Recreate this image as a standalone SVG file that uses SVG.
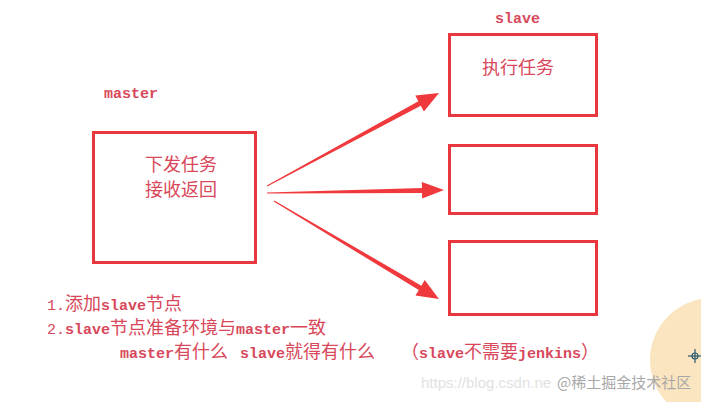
<svg xmlns="http://www.w3.org/2000/svg" width="701" height="402" viewBox="0 0 701 402">
<style>
.box{fill:none;stroke:#e8383d;stroke-width:3}
.arrow{fill:#f0393c;stroke:none}
.mono{font-family:"Liberation Mono","DejaVu Sans Mono",monospace;font-weight:bold;font-size:15px;fill:#d8485a}
.cjk{font-family:"Noto Sans CJK SC","Noto Sans CJK JP",sans-serif;font-size:18px;fill:#d8485a}
.lbl{font-family:"Liberation Mono","Noto Sans CJK SC",monospace;font-size:15px;fill:#d8485a}
.c{font-family:"Noto Sans CJK SC","Noto Sans CJK JP",sans-serif;font-size:18px}
.b{font-weight:bold}
.wm{font-family:"Liberation Sans",Arial,sans-serif;font-size:15px;fill:#e2e2e2}
.wm2{font-family:"Noto Sans CJK SC","Liberation Sans",sans-serif;font-size:15px;fill:#a8a8a8}
</style>
<rect width="701" height="402" fill="#ffffff"/>
<circle cx="712" cy="360" r="62" fill="#fbe5c0"/>
<g id="master">
<text class="mono" x="104" y="98">master</text>
<rect class="box" x="93.5" y="132.5" width="162" height="130"/>
<text class="cjk" x="181" y="171" text-anchor="middle" font-size="17">下发任务</text>
<text class="cjk" x="181" y="196" text-anchor="middle" font-size="17">接收返回</text>
</g>
<g id="slave1">
<text class="mono" x="495" y="23">slave</text>
<rect class="box" x="449.5" y="34.5" width="147" height="81"/>
<text class="cjk" x="482" y="74">执行任务</text>
</g>
<g id="slave2">
<rect class="box" x="449.5" y="145.5" width="147" height="68"/>
</g>
<g id="slave3">
<rect class="box" x="449.5" y="241.5" width="147" height="73"/>
</g>
<g id="connectors">
<polygon class="arrow" points="267.2,186.4 420.8,105.7 423.9,111.4 439,93 415.3,95.6 418.4,101.3 266.8,185.6"/>
<polygon class="arrow" points="267,193.5 422,192.9 422.2,198.5 444,190 421.8,182 422,187.9 267,192.5"/>
<polygon class="arrow" points="273.7,201.4 418.8,290 415.5,295.5 439,299 424.7,280.1 421.4,285.7 274.3,200.6"/>
</g>
<g id="notes">
<text class="lbl" x="47" y="310"><tspan>1.</tspan><tspan class="c">添加</tspan><tspan class="b">slave</tspan><tspan class="c">节点</tspan></text>
<text class="lbl" x="47" y="334"><tspan>2.</tspan><tspan class="b">slave</tspan><tspan class="c">节点准备环境与</tspan><tspan class="b">master</tspan><tspan class="c">一致</tspan></text>
<text class="lbl" x="120" y="358"><tspan class="b">master</tspan><tspan class="c">有什么</tspan><tspan class="b" x="240">slave</tspan><tspan class="c">就得有什么</tspan></text>
<text class="lbl" x="401" y="358"><tspan class="c">（</tspan><tspan class="b">slave</tspan><tspan class="c">不需要</tspan><tspan class="b">jenkins</tspan><tspan class="c">）</tspan></text>
</g>
<text class="wm" x="421" y="388">https://blog.csdn.ne</text>
<text class="wm2" x="557" y="388">@稀土掘金技术社区</text>
<g id="crosshair" stroke="#2a5a70" stroke-width="1.2" fill="none">
<circle cx="695" cy="356" r="3"/>
<line x1="688" y1="356" x2="701" y2="356"/>
<line x1="695" y1="349" x2="695" y2="363"/>
</g>
</svg>
